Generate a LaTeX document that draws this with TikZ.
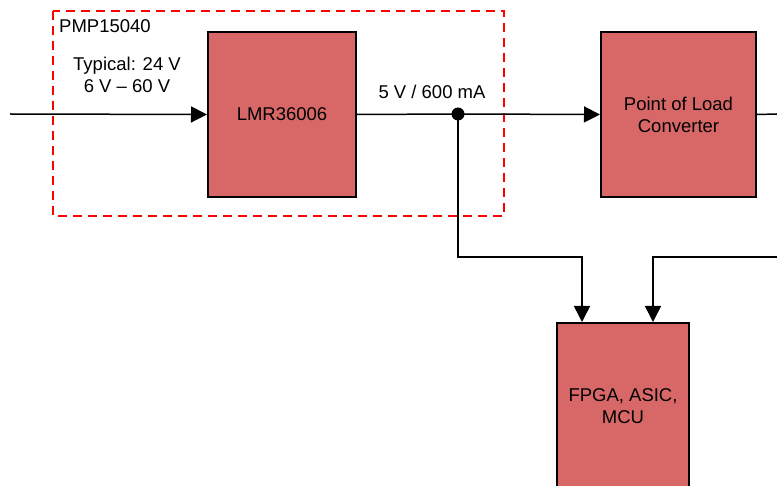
\documentclass[tikz,border=0pt]{standalone}
\usepackage{fontspec}
\setmainfont{Liberation Sans}
\usetikzlibrary{arrows.meta}
\definecolor{boxred}{RGB}{216,104,104}
\begin{document}
\begin{tikzpicture}[x=1pt,y=-1pt,
  blk/.style={draw=black,line width=2pt,fill=boxred,minimum width=#1,inner sep=0pt,align=center},
  wire/.style={line width=1.5pt},
  arr/.style={wire,-{Triangle[length=16pt,width=16pt]}},
  lbl/.style={align=center,inner sep=0pt},
  every node/.style={font=\fontsize{18.5}{22}\selectfont}]
\useasboundingbox (0,0) rectangle (777,486);
\clip (0,0) rectangle (777,486);
% dashed box
\draw[red,line width=2pt,dash pattern=on 9pt off 6pt] (53,11) rectangle (504,216);
\node[lbl,anchor=west] (pmp) at (59,26) {PMP15040};
\node[lbl] (typ) at (127,75) {Typical: 24 V\\6 V -- 60 V};
% blocks
\node[blk=148pt,minimum height=165pt] (lmr) at (282,114.5) {LMR36006};
\node[blk=155pt,minimum height=165pt] (pol) at (678.5,114.5) {Point of Load\\Converter};
\node[blk=132pt,minimum height=220pt,anchor=north] (fpga) at (623,322) {};
\node[lbl] (fpgatxt) at (623,406) {FPGA, ASIC,\\MCU};
\node[lbl] (vout) at (432,92) {5 V / 600 mA};
% coordinates
\coordinate (in) at (10,114);
\coordinate (dot) at (458,114);
\coordinate (polout) at (777,114);
\coordinate (rin) at (777,257);
% wires
\draw[arr] (in) -- (lmr.west);
\draw[wire] (lmr.east) -- (dot);
\draw[arr] (dot) -- (pol.west);
\draw[wire] (pol.east) -- (polout);
\draw[arr] (dot) -- (458,257) -- (582,257) -- (582,322);
\draw[arr] (rin) -- (653,257) -- (653,322);
\fill (dot) circle (6.5pt);
\end{tikzpicture}
\end{document}
